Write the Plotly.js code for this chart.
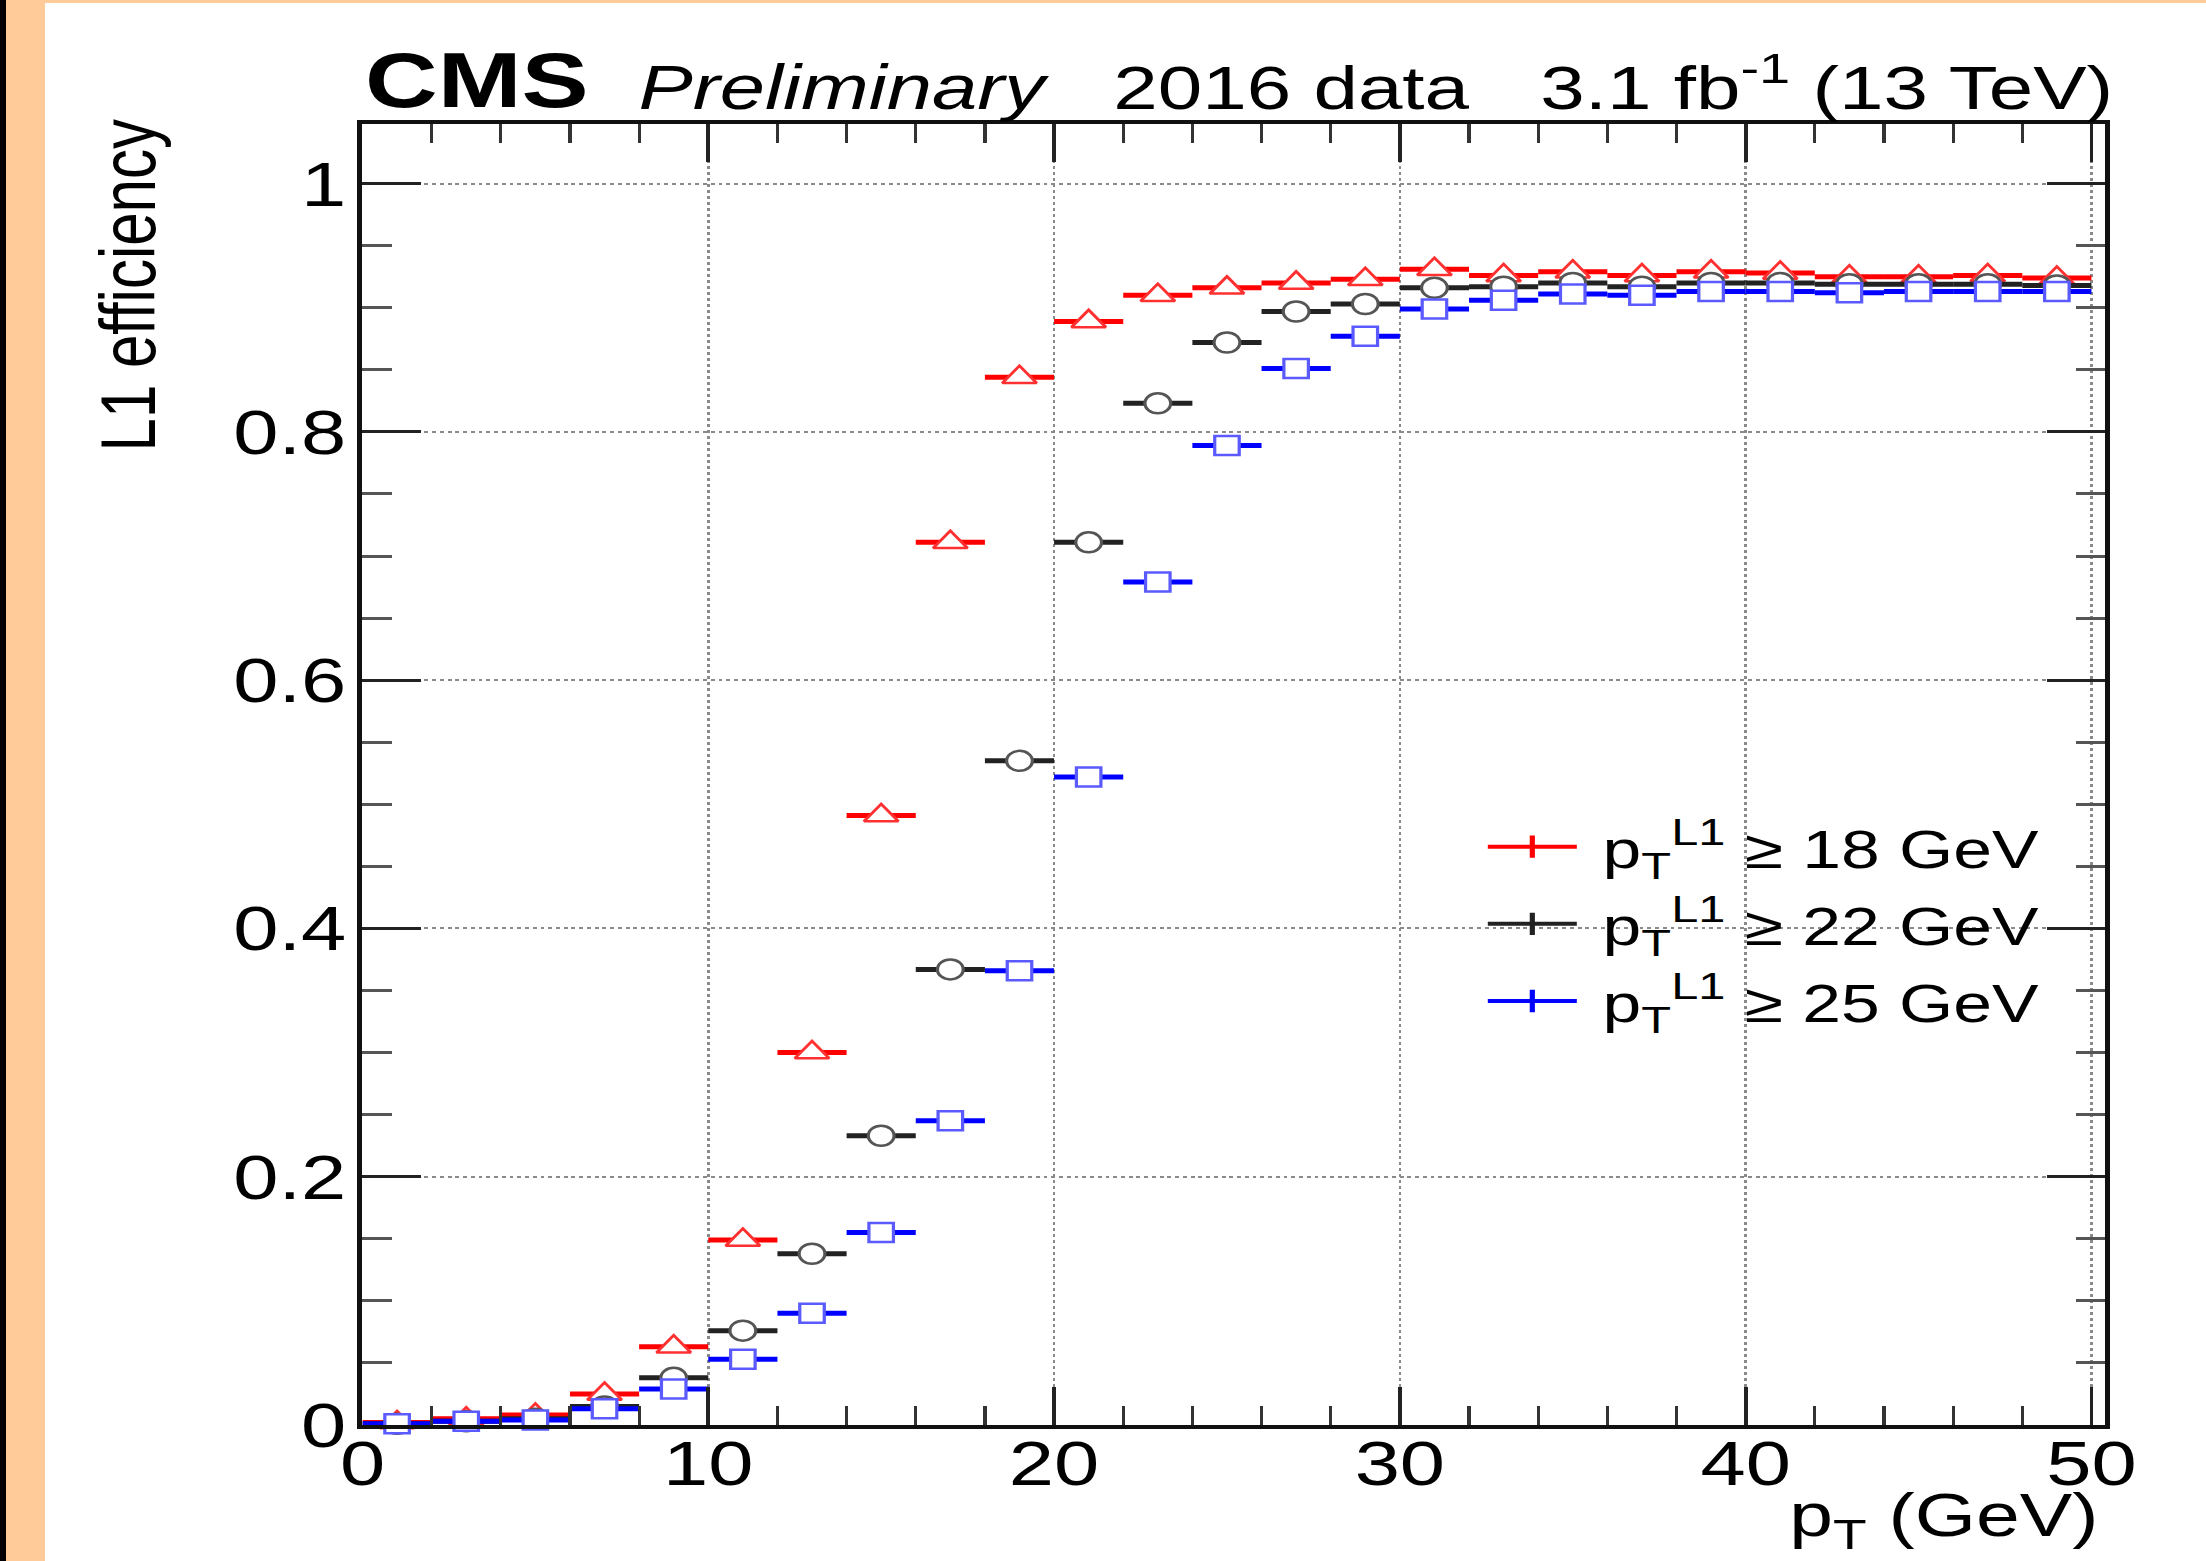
<!DOCTYPE html>
<html>
<head>
<meta charset="utf-8">
<script src="https://cdn.plot.ly/plotly-3.0.1.min.js"></script>
<style>
  html, body { margin:0; padding:0; background:#ffffff; overflow:hidden; }
  #stage { position:relative; width:2206px; height:1561px; background:#ffffff; overflow:hidden; }
  #plot { position:absolute; left:0; top:0; transform-origin:0 0; }
  .strip { position:absolute; }
</style>
</head>
<body>
<div id="stage">
  <div id="plot"></div>
  <div class="strip" style="left:0;top:0;width:2206px;height:3px;background:#FFCC99"></div>
  <div class="strip" style="left:6px;top:0;width:39px;height:1561px;background:#FFCC99"></div>
  <div class="strip" style="left:0;top:0;width:6px;height:1561px;background:#000000"></div>
</div>
<script>
// ---- data (bin centres in GeV, bin half width, efficiencies) ----
const ptCentres = [1,3,5,7,9,11,13,15,17,19,21,23,25,27,29,31,33,35,37,39,41,43,45,47,49];
const binHalfWidth = 1;
const effL1pt18 = [0.002,0.005,0.008,0.025,0.063,0.149,0.300,0.491,0.711,0.844,0.889,0.910,0.916,0.920,0.923,0.931,0.926,0.929,0.926,0.929,0.928,0.925,0.925,0.926,0.924];
const effL1pt22 = [0.001,0.003,0.005,0.015,0.038,0.076,0.138,0.233,0.367,0.535,0.711,0.823,0.872,0.897,0.903,0.916,0.917,0.920,0.917,0.920,0.920,0.919,0.919,0.919,0.918];
const effL1pt25 = [0.001,0.003,0.004,0.013,0.029,0.053,0.090,0.155,0.245,0.366,0.522,0.679,0.789,0.851,0.877,0.899,0.906,0.911,0.910,0.913,0.913,0.912,0.913,0.913,0.913];
const seriesNames = [' p<sub>T</sub><sup>L1</sup> \u2265 18 GeV', ' p<sub>T</sub><sup>L1</sup> \u2265 22 GeV', ' p<sub>T</sub><sup>L1</sup> \u2265 25 GeV'];
const xTickVals = [0,10,20,30,40,50];
const yTickVals = [0,0.2,0.4,0.6,0.8,1];

// ---- styling ----
const STRETCH = 1.29;              // reference picture is stretched horizontally
const W = Math.round(2206 / STRETCH);
const H = 1561;
const FONT = 'Liberation Sans, Arial, Helvetica, sans-serif';
const colors = ['#ff0000', '#222222', '#0000ff'];
const markerLine = ['#ff3030', '#555555', '#5a5aff'];
const symbols = ['triangle-up', 'circle', 'square'];
const sizes = [23, 20, 19];
const seriesData = [effL1pt18, effL1pt22, effL1pt25];

const plotDiv = document.getElementById('plot');
plotDiv.style.width = W + 'px';
plotDiv.style.height = H + 'px';
plotDiv.style.transform = 'scaleX(' + STRETCH + ')';

const traces = [];
seriesData.forEach(function (ys, i) {
  traces.push({
    type: 'scatter', mode: 'markers',
    x: ptCentres, y: ys,
    showlegend: false,
    cliponaxis: false,
    error_x: { type: 'constant', value: binHalfWidth, width: 0, thickness: 5, color: colors[i] },
    marker: { symbol: symbols[i], size: sizes[i], color: '#ffffff', line: { color: markerLine[i], width: 2.5 } }
  });
});
// legend keys (no data points of their own)
seriesData.forEach(function (ys, i) {
  traces.push({
    type: 'scatter', mode: 'lines+markers',
    x: [null], y: [null],
    name: seriesNames[i],
    legendgroup: 'g' + i,
    line: { color: colors[i], width: 4 },
    marker: { symbol: 'line-ns-open', size: 16, line: { color: colors[i], width: 4 } }
  });
});

const axisCommon = {
  showline: true, linewidth: 4, linecolor: '#111111', mirror: 'ticks',
  ticks: 'inside', tickcolor: '#222222',
  showgrid: true, gridcolor: '#8a8a8a', griddash: 'dot', gridwidth: 2,
  zeroline: false,
  tickfont: { family: FONT, size: 63, color: '#000000' }
};

const layout = {
  width: W, height: H, autosize: false,
  paper_bgcolor: 'rgba(0,0,0,0)', plot_bgcolor: '#ffffff',
  margin: { l: 363 / STRETCH, r: 100 / STRETCH, t: 124, b: 136, pad: 0 },
  font: { family: FONT, color: '#000000' },
  xaxis: Object.assign({}, axisCommon, {
    range: [0, 50.4], tickmode: 'array', tickvals: xTickVals,
    ticklen: 38, tickwidth: 3,
    ticklabelstandoff: -20,
    minor: { dtick: 2, tick0: 0, ticklen: 19, tickwidth: 2.5, tickcolor: '#333333', ticks: 'inside', showgrid: false }
  }),
  yaxis: Object.assign({}, axisCommon, {
    range: [0, 1.048], tickmode: 'array', tickvals: yTickVals,
    ticklen: 45, tickwidth: 3,
    ticklabelstandoff: -4,
    minor: { dtick: 0.05, tick0: 0, ticklen: 23, tickwidth: 3, tickcolor: '#555555', ticks: 'inside', showgrid: false }
  }),
  showlegend: true,
  legend: {
    x: 0.642, y: 0.4765, xanchor: 'left', yanchor: 'top',
    bgcolor: 'rgba(0,0,0,0)', borderwidth: 0,
    font: { family: FONT, size: 54, color: '#000000' },
    itemwidth: 69, tracegroupgap: 4
  },
  annotations: [
    { xref: 'paper', yref: 'paper', x: 0, y: 1, xanchor: 'left', yanchor: 'bottom', yshift: -2,
      text: '<b>CMS</b>', showarrow: false, font: { family: FONT, size: 78, color: '#000' } },
    { xref: 'paper', yref: 'paper', x: 0.157, y: 1, xanchor: 'left', yanchor: 'bottom', yshift: 0,
      text: '<i>Preliminary</i>', showarrow: false, font: { family: FONT, size: 63, color: '#000' } },
    { xref: 'paper', yref: 'paper', x: 0.429, y: 1, xanchor: 'left', yanchor: 'bottom', yshift: 0,
      text: '2016 data', showarrow: false, font: { family: FONT, size: 62, color: '#000' } },
    { xref: 'paper', yref: 'paper', x: 1.006, y: 1, xanchor: 'right', yanchor: 'bottom', yshift: 0,
      text: '3.1 fb<sup>-1</sup> (13 TeV)', showarrow: false, font: { family: FONT, size: 62, color: '#000' } },
    { xref: 'paper', yref: 'paper', x: -0.134, y: 1.005, xanchor: 'center', yanchor: 'top',
      text: 'L1 efficiency', textangle: -90, showarrow: false, font: { family: FONT, size: 60, color: '#000' } },
    { xref: 'paper', yref: 'paper', x: 0.998, y: -0.0415, xanchor: 'right', yanchor: 'top',
      text: 'p<sub>T</sub> (GeV)', showarrow: false, font: { family: FONT, size: 61, color: '#000' } }
  ]
};

Plotly.newPlot(plotDiv, traces, layout, { displayModeBar: false, staticPlot: true });
</script>
</body>
</html>
